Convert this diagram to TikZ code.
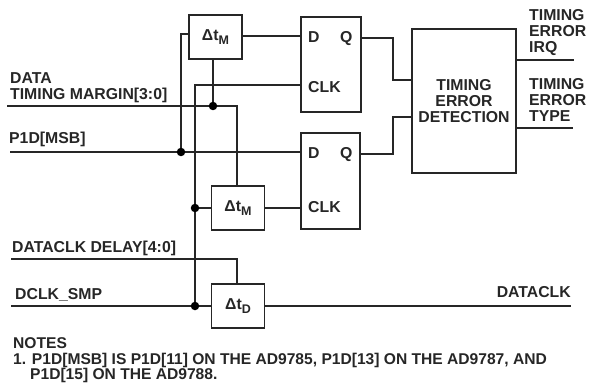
\documentclass[tikz,border=0pt]{standalone}
\usepackage{fontspec}
\setmainfont{Liberation Sans}
\newcommand{\dsub}[1]{Δt\raisebox{-3.5pt}{\fontsize{12.5}{12.5}\selectfont #1}}
\begin{document}
\begin{tikzpicture}[x=1pt,y=-1pt,
  blk/.style={draw=black!85,line width=1.3pt,fill=none,inner sep=0pt},
  wire/.style={draw=black!85,line width=1.3pt},
  dot/.style={circle,fill=black,inner sep=0pt,minimum size=8.5pt},
  lbl/.style={font=\bfseries\fontsize{15.8}{16}\selectfont,text=black!85,inner sep=0pt,align=left,anchor=west},
  flbl/.style={font=\bfseries\fontsize{15.8}{16}\selectfont,text=black!85,inner sep=0pt,anchor=base west},
  clbl/.style={font=\bfseries\fontsize{15.8}{16}\selectfont,text=black!85,inner sep=0pt,align=center},
  note/.style={font=\bfseries\fontsize{15.6}{15}\selectfont,text=black!85,inner sep=0pt,anchor=west}]
\useasboundingbox (0,0) rectangle (589,385);
% boxes
\node[blk,minimum width=53pt,minimum height=44pt,clbl] (m1) at (215.5,37) {\dsub{M}};
\node[blk,minimum width=53pt,minimum height=44pt,clbl] (m2) at (238,208) {\dsub{M}};
\node[blk,minimum width=53pt,minimum height=44pt,clbl] (d) at (238,306) {\dsub{D}};
\node[blk,minimum width=60pt,minimum height=95pt] (f1) at (331,64.5) {};
\node[blk,minimum width=59pt,minimum height=96pt] (f2) at (330.5,181) {};
\node[blk,minimum width=104pt,minimum height=144pt,clbl] (ted) at (464,101) {TIMING\\ERROR\\DETECTION};
% box labels
\node[flbl] (fd1) at (308,43) {D};
\node[flbl] (fq1) at (340,43) {Q};
\node[flbl] (fc1) at (308,93) {CLK};
\node[flbl] (fd2) at (308,159) {D};
\node[flbl] (fq2) at (340,159) {Q};
\node[flbl] (fc2) at (308,212) {CLK};
% coordinates
\coordinate (a) at (7,106);
\coordinate (b) at (10,152);
\coordinate (c) at (11,259);
\coordinate (e) at (11,306);
\coordinate (j1) at (213,106);
\coordinate (j2) at (181,152);
\coordinate (j3) at (195,208);
\coordinate (j4) at (195,306);
\coordinate (o1) at (574,60);
\coordinate (o2) at (573,128);
\coordinate (o3) at (571,306);
% wires
\draw[wire] (a) -- (237,106) -- (237,186);
\draw[wire] (j1) -- (213,59);
\draw[wire] (b) -- (301,152);
\draw[wire] (j2) -- (181,34) -- (189,34);
\draw[wire] (301,85) -- (195,85) -- (j4);
\draw[wire] (j3) -- (m2.west);
\draw[wire] (242,36) -- (301,36);
\draw[wire] (m2.east) -- (301,208);
\draw[wire] (c) -- (237,259) -- (237,284);
\draw[wire] (e) -- (d.west);
\draw[wire] (d.east) -- (o3);
\draw[wire] (361,38) -- (393,38) -- (393,80) -- (412,80);
\draw[wire] (360,154) -- (393,154) -- (393,117) -- (412,117);
\draw[wire] (516,60) -- (o1);
\draw[wire] (516,128) -- (o2);
% dots
\node[dot] at (j1) {};
\node[dot] at (j2) {};
\node[dot] at (j3) {};
\node[dot] at (j4) {};
% labels
\node[lbl] at (10,88) {DATA\\TIMING MARGIN[3:0]};
\node[lbl] at (9,139) {P1D[MSB]};
\node[lbl] at (12,248) {DATACLK DELAY[4:0]};
\node[lbl] at (15,295) {DCLK\_SMP};
\node[lbl,anchor=east] at (571,292) {DATACLK};
\node[lbl] at (529,33) {TIMING\\ERROR\\IRQ};
\node[lbl] at (529,100) {TIMING\\ERROR\\TYPE};
\node[note] at (13,343) {NOTES};
\node[note] at (13,360) {1. P1D[MSB] IS P1D[11] ON THE AD9785, P1D[13] ON THE AD9787, AND};
\node[note] at (30,375) {P1D[15] ON THE AD9788.};
\end{tikzpicture}
\end{document}
